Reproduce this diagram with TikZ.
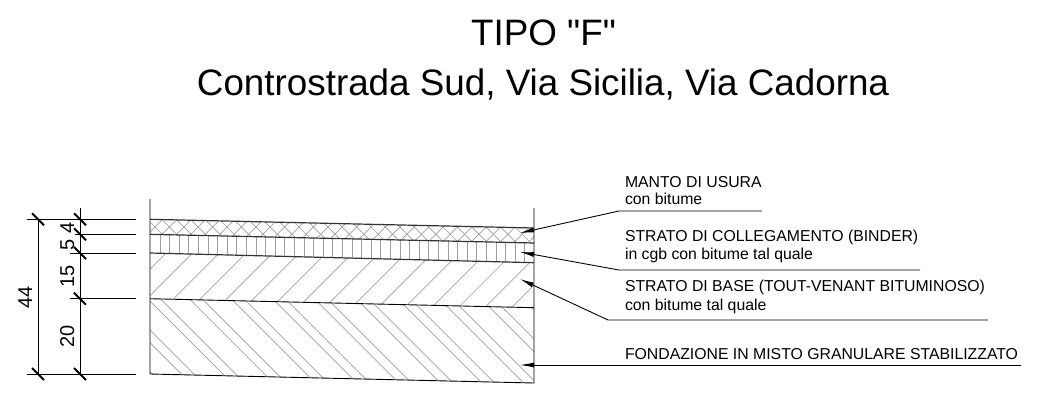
\documentclass[tikz,border=0pt]{standalone}
\usepackage{fontspec}
\setmainfont[Ligatures=TeXOff]{Liberation Sans}
\usetikzlibrary{arrows.meta,positioning}

\begin{document}
\begin{tikzpicture}[x=1pt,y=-1pt,line width=0.9pt]
  \tikzstyle{every node}=[inner sep=0pt,outer sep=0pt]
  \tikzstyle{title}=[font=\fontsize{36.8}{40}\selectfont,anchor=base]
  \tikzstyle{note}=[font=\fontsize{15.8}{18}\selectfont,anchor=base west]
  \tikzstyle{dim}=[font=\fontsize{20}{22}\selectfont,rotate=90,anchor=base]
  \tikzstyle{hatch}=[line width=0.7pt,gray!75]
  \tikzstyle{tick}=[line width=2pt]
  \tikzstyle{leader}=[line width=0.9pt,-{Latex[length=14pt,width=5pt]}]

  \useasboundingbox (0,0) rectangle (1055,416);

  % titles
  \node[title] (tipo)  at (543.5,45.5) {TIPO "F"};
  \node[title] (roads) at (543,95.5) {Controstrada Sud, Via Sicilia, Via Cadorna};

  % layer corners
  \coordinate (l0) at (150,219.3); \coordinate (r0) at (534,228);
  \coordinate (l1) at (150,234.3); \coordinate (r1) at (534,243);
  \coordinate (l2) at (150,253);   \coordinate (r2) at (534,262.7);
  \coordinate (l3) at (150,298.7); \coordinate (r3) at (534,307.7);
  \coordinate (l4) at (150,374);   \coordinate (r4) at (534,383);

  % hatching
  \begin{scope}
    \clip (l0) -- (r0) -- (r1) -- (l1) -- cycle;
    \foreach \k in {-27,...,2}
      \draw[hatch] (100,172+14.4*\k) -- ++(500,500);
    \foreach \k in {0,...,27}
      \draw[hatch] (100,282+14.4*\k) -- ++(500,-500);
  \end{scope}
  \begin{scope}
    \clip (l1) -- (r1) -- (r2) -- (l2) -- cycle;
    \foreach \k in {0,...,38}
      \draw[hatch] (160+9.6*\k,225) -- ++(0,50);
  \end{scope}
  \begin{scope}
    \clip (l2) -- (r2) -- (r3) -- (l3) -- cycle;
    \foreach \k in {-2,...,16}
      \draw[hatch] (150,295.7+26.67*\k) -- ++(400,-400);
  \end{scope}
  \begin{scope}
    \clip (l3) -- (r3) -- (r4) -- (l4) -- cycle;
    \foreach \k in {-11,...,1} {
      \draw[hatch] (150,342.7+41.67*\k) -- ++(400,400);
      \draw[hatch] (150,330+41.67*\k) -- ++(400,400);
    }
  \end{scope}

  % section outline
  \coordinate (wl) at (150,199);
  \coordinate (wr) at (534,208);
  \draw (wl) -- (l4) -- (r4) -- (wr);
  \draw[line width=1.2pt,black!80] (l0) -- (r0);
  \draw[line width=1.2pt,black!80] (l1) -- (r1);
  \draw[line width=1.2pt,black!80] (l2) -- (r2);
  \draw (l3) -- (r3);

  % dimensions
  \coordinate (e0) at (27,219.3);  \coordinate (f0) at (136,219.3);
  \coordinate (e1) at (75,234.3);  \coordinate (f1) at (136,234.3);
  \coordinate (e2) at (70,253);    \coordinate (f2) at (136,253);
  \coordinate (e3) at (70,298.7);  \coordinate (f3) at (136,298.7);
  \coordinate (e4) at (27,374);    \coordinate (f4) at (136,374);
  \draw (e0) -- (f0);
  \draw (e1) -- (f1);
  \draw (e2) -- (f2);
  \draw (e3) -- (f3);
  \draw (e4) -- (f4);
  \coordinate (d0) at (38,219.3);
  \coordinate (d1) at (38,374);
  \coordinate (c0) at (80,208);
  \coordinate (c1) at (80,374);
  \draw (d0) -- (d1);
  \draw (c0) -- (c1);
  \foreach \x/\y in {38/219.3,80/219.3,80/234.3,80/253,80/298.7,38/374,80/374}
    \draw[tick] (\x-6,\y-6) -- (\x+6,\y+6);

  \node[dim] (total) at (32,297) {44};
  \node[dim] (h20)   at (74,336) {20};
  \node[dim] (h15)   at (74,276.5) {15};
  \node[dim] (h5)    at (74,245) {5};
  \node[dim] (h4)    at (74,228) {4};

  % labels
  \node[note] (manto)   at (625,187) {MANTO DI USURA};
  \node[note] (manto2)  at (625,204) {con bitume};
  \node[note] (binder)  at (625,241) {STRATO DI COLLEGAMENTO (BINDER)};
  \node[note] (binder2) at (625,259.5) {in cgb con bitume tal quale};
  \node[note] (base)    at (625,291) {STRATO DI BASE (TOUT-VENANT BITUMINOSO)};
  \node[note] (base2)   at (625,310) {con bitume tal quale};
  \node[note] (fond)    at (625,359) {FONDAZIONE IN MISTO GRANULARE STABILIZZATO};

  % leaders
  \coordinate (t0) at (520,233); \coordinate (k0) at (619,211); \coordinate (n0) at (762,211);
  \coordinate (t1) at (520,252); \coordinate (k1) at (619,270); \coordinate (n1) at (920,270);
  \coordinate (t2) at (520,279); \coordinate (k2) at (608,320); \coordinate (n2) at (988,320);
  \coordinate (t3) at (520,365); \coordinate (n3) at (1021,365);
  \draw[leader] (n0) -- (k0) -- (t0);
  \draw[leader] (n1) -- (k1) -- (t1);
  \draw[leader] (n2) -- (k2) -- (t2);
  \draw[leader] (n3) -- (t3);
\end{tikzpicture}
\end{document}
